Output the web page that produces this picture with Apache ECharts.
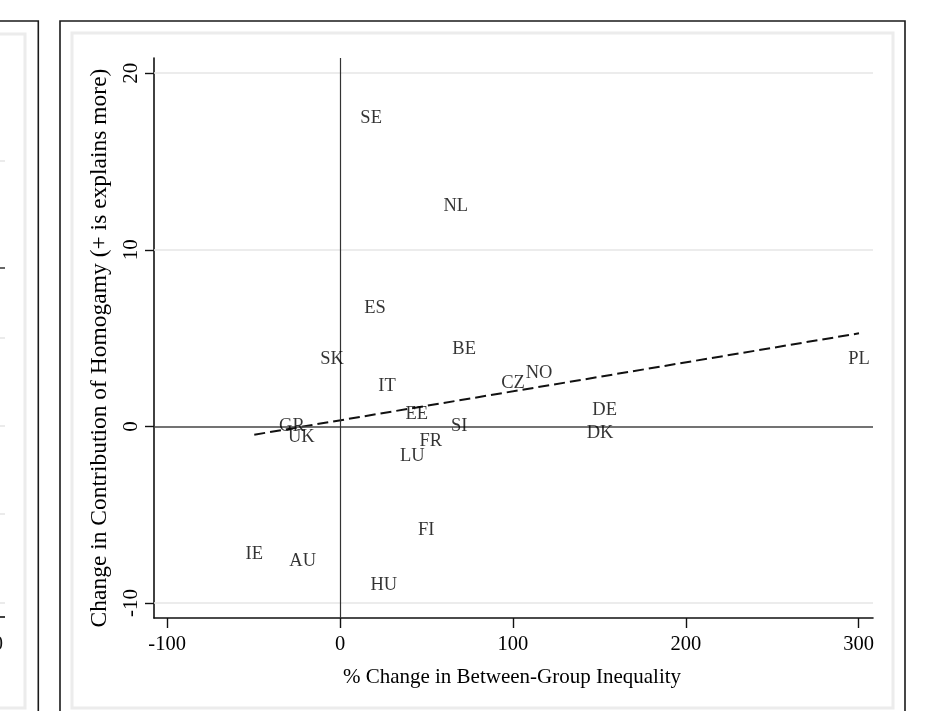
<!DOCTYPE html>
<html>
<head>
<meta charset="utf-8">
<script src="https://cdn.jsdelivr.net/npm/echarts@6/dist/echarts.min.js"></script>
<style>
html,body{margin:0;padding:0;background:#fff;}
#chart{width:934px;height:711px;}
</style>
</head>
<body>
<div id="chart"></div>
<script>
// ---- data ----
const countries = ['SE','NL','ES','SK','BE','IT','CZ','NO','EE','GR','UK','SI','FR','LU','FI','IE','AU','HU','DE','DK','PL'];
const xValues   = [18.0, 67.0, 20.2, -4.6, 71.8, 27.2, 100.1, 115.1, 44.4, -27.8, -22.4, 69.0, 52.5, 41.8, 49.9, -49.6, -21.6, 25.3, 153.1, 150.4, 300.2];
const yValues   = [17.47, 12.49, 6.69, 3.80, 4.37, 2.29, 2.43, 3.01, 0.69, 0.0, -0.62, 0.0, -0.81, -1.68, -5.87, -7.24, -7.61, -8.98, 0.93, -0.36, 3.80];
const fitX = [-49.6, 300.2];
const fitY = [-0.47, 5.27];
const xTicks = [-100, 0, 100, 200, 300];
const yTicks = [-10, 0, 10, 20];
const yGridLines = [-10, 10, 20];
const xTitle = '% Change in Between-Group Inequality';
const yTitle = 'Change in Contribution of Homogamy (+ is explains more)';

const serif = "'Liberation Serif','Times New Roman',serif";
const chart = echarts.init(document.getElementById('chart'), null, {renderer:'canvas'});

const labelData = countries.map((c,i)=>({name:c, value:[xValues[i], yValues[i]]}));
const fitData = fitX.map((x,i)=>[x, fitY[i]]);

const option = {
  animation:false,
  backgroundColor:'#fff',
  grid:{left:154, top:58, width:719, height:560, containLabel:false},
  xAxis:{
    type:'value', min:-107.6, max:308.3,
    axisLine:{show:true, onZero:false, lineStyle:{color:'#111', width:1.6}},
    axisTick:{show:true, customValues:xTicks, length:10, lineStyle:{color:'#111', width:1.4}},
    axisLabel:{show:true, customValues:xTicks, margin:16, fontFamily:serif, fontSize:20.5, color:'#000'},
    splitLine:{show:false}
  },
  yAxis:{
    type:'value', min:-10.85, max:20.86,
    axisLine:{show:true, onZero:false, lineStyle:{color:'#111', width:1.6}},
    axisTick:{show:true, customValues:yTicks, length:9, lineStyle:{color:'#111', width:1.4}},
    axisLabel:{show:true, customValues:yTicks, rotate:90, margin:12, fontFamily:serif, fontSize:21, color:'#000'},
    splitLine:{show:false}
  },
  series:[
    {
      type:'line', name:'refs', data:[], z:1, silent:true,
      markLine:{
        silent:true, symbol:['none','none'], label:{show:false}, animation:false,
        data:[
          ...yGridLines.map(v=>({yAxis:v, lineStyle:{color:'#e6e6e6', width:1.6, type:'solid'}})),
          {yAxis:0, lineStyle:{color:'#444', width:1.5, type:'solid'}},
          {xAxis:0, lineStyle:{color:'#333', width:1.2, type:'solid'}}
        ]
      }
    },
    {
      type:'line', name:'fit', data:fitData, z:3, symbol:'none', silent:true,
      lineStyle:{color:'#111', width:2, type:[11,5]}
    },
    {
      type:'scatter', name:'countries', data:labelData, z:5, symbolSize:1,
      itemStyle:{color:'rgba(0,0,0,0)'},
      label:{show:true, position:'inside', formatter:'{b}', color:'#000', fontFamily:serif, fontSize:18.5}
    }
  ],
  graphic:[
    // main panel border and inner frame
    {type:'rect', shape:{x:60, y:21, width:845, height:720}, style:{fill:'none', stroke:'#1a1a1a', lineWidth:1.6}, silent:true},
    {type:'rect', shape:{x:72, y:33, width:821, height:675}, style:{fill:'none', stroke:'#ececec', lineWidth:3}, silent:true},
    // left neighbouring panel (partially visible)
    {type:'polyline', shape:{points:[[-5,21],[38.3,21],[38.3,720]]}, style:{fill:'none', stroke:'#1a1a1a', lineWidth:1.6}, silent:true},
    {type:'polyline', shape:{points:[[-5,34],[25,34],[25,708],[-5,708]]}, style:{fill:'none', stroke:'#ececec', lineWidth:3}, silent:true},
    ...[161,338,426,514,603].map(y=>({type:'line', shape:{x1:0,y1:y,x2:5,y2:y}, style:{stroke:'#e6e6e6', lineWidth:1.6}, silent:true})),
    {type:'line', shape:{x1:0,y1:268,x2:5,y2:268}, style:{stroke:'#333', lineWidth:1.5}, silent:true},
    {type:'line', shape:{x1:0,y1:617,x2:5,y2:617}, style:{stroke:'#111', lineWidth:1.6}, silent:true},
    {type:'text', x:3, y:645, style:{text:'0', font:"20px 'Liberation Serif'", fill:'#111', align:'right', verticalAlign:'middle'}, silent:true},
    // axis titles
    {type:'text', x:512, y:677, style:{text:xTitle, font:"21px 'Liberation Serif'", fill:'#000', align:'center', verticalAlign:'middle'}, silent:true},
    {type:'text', x:100, y:348, rotation:Math.PI/2, style:{text:yTitle, font:"23.5px 'Liberation Serif'", fill:'#000', align:'center', verticalAlign:'middle'}, silent:true}
  ]
};
chart.setOption(option);
</script>
</body>
</html>
